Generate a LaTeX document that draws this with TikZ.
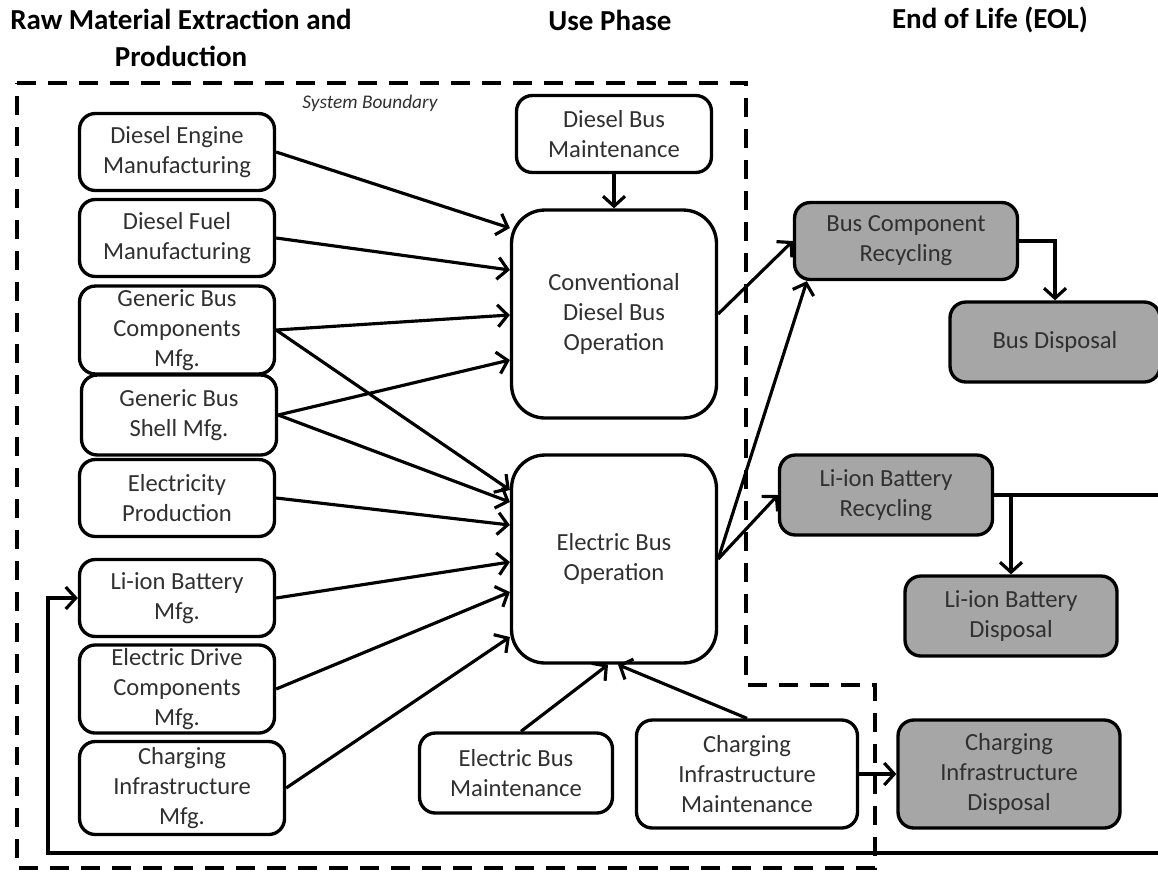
\documentclass[tikz,border=0pt]{standalone}
\usepackage{fontspec}
\setmainfont{Carlito}
\usetikzlibrary{arrows.meta, positioning}
\definecolor{eolgrey}{HTML}{A6A6A6}
\definecolor{txtgrey}{HTML}{303030}

\begin{document}
\begin{tikzpicture}[
  x=0.02cm, y=-0.02cm,
  font=\fontsize{14}{17}\selectfont,
  >={Straight Barb[length=2mm,width=4.4mm]},
  proc/.style={draw, line width=1.9pt, rounded corners=9pt, fill=white,
               align=center, text=txtgrey, inner sep=2pt,
               minimum width=3.9cm, minimum height=1.54cm},
  big/.style={proc, rounded corners=19pt,
              minimum width=4.1cm, minimum height=4.16cm},
  eol/.style={proc, fill=eolgrey},
  head/.style={font=\fontsize{16.5}{21.5}\selectfont\bfseries, align=center},
  arr/.style={->, line width=1.8pt},
  wire/.style={line width=1.8pt},
  bound/.style={line width=2.2pt, dash pattern=on 0.38cm off 0.24cm},
]
\useasboundingbox (0,0) rectangle (1158,873);

% headings
\node[head] (hraw) at (181,38) {Raw Material Extraction and\\Production};
\node[head] (huse) at (610,20) {Use Phase};
\node[head] (heol) at (990,20) {End of Life (EOL)};

% system boundary
\draw[bound] (17,83) -- (746,83) -- (746,685) -- (875,685)
  -- (875,868) -- (17,868) -- cycle;
\node[font=\fontsize{11}{13}\selectfont\itshape, text=txtgrey] (sysb)
  at (370,103) {System Boundary};

% production
\node[proc] (dem) at (177,152) {Diesel Engine\\Manufacturing};
\node[proc] (dfm) at (177,238) {Diesel Fuel\\Manufacturing};
\node[proc, minimum height=1.7cm] (gbc) at (177,330) {Generic Bus\\Components\\Mfg.};
\node[proc, minimum height=1.6cm] (gbs) at (179,415) {Generic Bus\\Shell Mfg.};
\node[proc] (elp) at (177,498) {Electricity\\Production};
\node[proc] (lib) at (177,598) {Li-ion Battery\\Mfg.};
\node[proc, minimum height=1.76cm] (edc) at (177,689) {Electric Drive\\Components\\Mfg.};
\node[proc, minimum width=4.1cm, minimum height=1.86cm] (cim) at (182,788)
  {Charging\\Infrastructure\\Mfg.};

% use phase
\node[proc] (dbm) at (614,134) {Diesel Bus\\Maintenance};
\node[big] (cdo) at (614,314) {Conventional\\Diesel Bus\\Operation};
\node[big] (ebo) at (614,559) {Electric Bus\\Operation};
\node[proc, minimum width=3.86cm, minimum height=1.6cm] (ebm) at (516,773)
  {Electric Bus\\Maintenance};
\node[proc, minimum width=4.42cm, minimum height=2.16cm] (cimt) at (747,774)
  {Charging\\Infrastructure\\Maintenance};

% end of life
\node[eol, minimum width=4.46cm] (bcr) at (906,241) {Bus Component\\Recycling};
\node[eol, minimum width=4.2cm, minimum height=1.6cm] (bd) at (1055,342) {Bus Disposal};
\node[eol, minimum width=4.26cm, minimum height=1.6cm] (lbr) at (886,495)
  {Li-ion Battery\\Recycling};
\node[eol, minimum width=4.24cm, minimum height=1.6cm] (lbd) at (1011,616)
  {Li-ion Battery\\Disposal};
\node[eol, minimum width=4.44cm, minimum height=2.16cm] (cid) at (1009,774)
  {Charging\\Infrastructure\\Disposal};

\coordinate (lpR) at (1165,853);
\coordinate (lpL) at (48,853);

% inputs to diesel bus
\draw[arr] (dem.east) -- ([yshift=1.72cm]cdo.west);
\draw[arr] (dfm.east) -- ([yshift=0.88cm]cdo.west);
\draw[arr] (gbc.east) -- ([yshift=-0.02cm]cdo.west);
\draw[arr] (gbs.east) -- ([yshift=-0.92cm]cdo.west);
\draw[arr] (dbm) -- (cdo);

% inputs to electric bus
\draw[arr] (gbc.east) -- ([yshift=1.38cm]ebo.west);
\draw[arr] (gbs.east) -- ([yshift=1.14cm]ebo.west);
\draw[arr] (elp.east) -- ([yshift=0.68cm]ebo.west);
\draw[arr] (lib.east) -- ([yshift=-0.06cm]ebo.west);
\draw[arr] (edc.east) -- ([yshift=-0.66cm]ebo.west);
\draw[arr] (cim.east) -- ([yshift=-1.56cm]ebo.west);
\draw[arr] ([xshift=0.1cm]ebm.north) -- ([xshift=-0.12cm]ebo.south);
\draw[arr] (cimt.north) -- ([xshift=0.08cm]ebo.south);

% to end of life
\draw[arr] (cdo.east) -- (bcr.west);
\draw[arr] (ebo.east) -- ([xshift=0.28cm]bcr.south west);
\draw[arr] (ebo.east) -- (lbr.west);
\draw[arr] (bcr.east) -| (bd.north);
\draw[arr] (lbd.north |- lbr.east) -- (lbd.north);
\draw[arr] (cimt.east) -- (cid.west);

% battery loop
\draw[arr] (lbr.east) -- (lbr.east -| lpR) -- (lpR) -- (lpL) |- (lib.west);
\end{tikzpicture}
\end{document}
